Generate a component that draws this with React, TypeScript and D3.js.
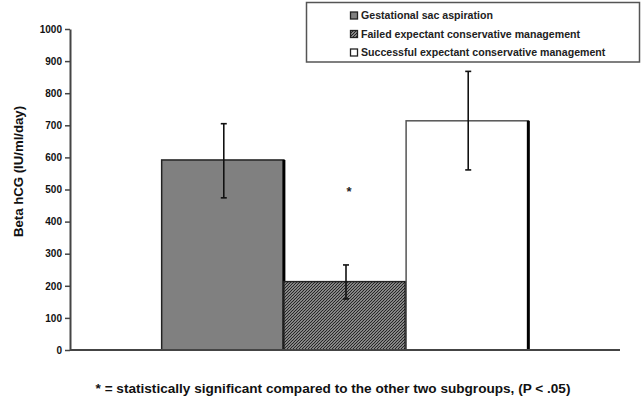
import React, { useEffect, useRef } from 'react';
import * as d3 from 'd3';

const seriesNames = [
    "Gestational sac aspiration",
    "Failed expectant conservative management",
    "Successful expectant conservative management",
];
const means = [592, 213, 714];
const errLow = [474, 159, 561];
const errHigh = [705, 265, 868];
const yTicks = [0, 100, 200, 300, 400, 500, 600, 700, 800, 900, 1000];
const significant = [false, true, false];
const yTitle = "Beta hCG (IU/ml/day)";
const footnote = "* = statistically significant compared to the other two subgroups, (P < .05)";

export default function App() {
    const svgRef = useRef<SVGSVGElement>(null);

    useEffect(() => {
        if (!svgRef.current) return;
        const svg = d3.select(svgRef.current);
        svg.selectAll("*").remove();

        const W = 644, H = 401;
        const margin = { top: 29, right: 24, bottom: 51, left: 70 };
        const font = "'Liberation Sans', Arial, sans-serif";

        // hatch pattern for the failed group
        const defs = svg.append("defs");
        const pat = defs.append("pattern")
            .attr("id", "hatch")
            .attr("patternUnits", "userSpaceOnUse")
            .attr("width", 3)
            .attr("height", 3);
        pat.append("rect").attr("width", 3).attr("height", 3).attr("fill", "#cfcfcf");
        pat.append("path")
            .attr("d", "M-1,1 l2,-2 M0,3 l3,-3 M2,4 l2,-2")
            .attr("stroke", "#262626")
            .attr("stroke-width", 1.25);

        const fills = ["#808080", "url(#hatch)", "#ffffff"];

        const x0 = d3.scaleBand<string>()
            .domain(["all"])
            .range([margin.left, W - margin.right])
            .paddingInner(0)
            .paddingOuter(0.25);

        const x1 = d3.scaleBand<string>()
            .domain(seriesNames)
            .range([0, x0.bandwidth()])
            .padding(0);

        const y = d3.scaleLinear()
            .domain([0, 1000])
            .range([H - margin.bottom, margin.top]);

        const g = svg.append("g");

        // Bars
        seriesNames.forEach((s, i) => {
            const bx = x0("all")! + x1(s)!;
            const bw = x1.bandwidth();
            const top = y(means[i]);
            const bottom = y(0);
            g.append("rect")
                .attr("x", bx)
                .attr("y", top)
                .attr("width", bw)
                .attr("height", bottom - top)
                .attr("fill", fills[i])
                .attr("stroke", i === 2 ? "#555" : "#222")
                .attr("stroke-width", 1.5);
            // dark shadow on right edge
            g.append("line")
                .attr("x1", bx + bw).attr("x2", bx + bw)
                .attr("y1", top).attr("y2", bottom)
                .attr("stroke", "#000")
                .attr("stroke-width", 3);
        });

        // Error bars
        seriesNames.forEach((s, i) => {
            const cx = x0("all")! + x1(s)! + x1.bandwidth() / 2 + 1;
            const cap = 3;
            g.append("line")
                .attr("x1", cx).attr("x2", cx)
                .attr("y1", y(errHigh[i])).attr("y2", y(errLow[i]))
                .attr("stroke", "#111").attr("stroke-width", 1.6);
            [errHigh[i], errLow[i]].forEach(v => {
                g.append("line")
                    .attr("x1", cx - cap).attr("x2", cx + cap)
                    .attr("y1", y(v)).attr("y2", y(v))
                    .attr("stroke", "#111").attr("stroke-width", 1.6);
            });
            if (significant[i]) {
                g.append("text")
                    .attr("x", cx + 3)
                    .attr("y", y(errHigh[i] + 215))
                    .attr("text-anchor", "middle")
                    .attr("font-family", font)
                    .attr("font-weight", "bold")
                    .attr("font-size", 13)
                    .attr("fill", "#222")
                    .text("*");
            }
        });

        // Axes
        const yAxis = g.append("g")
            .attr("transform", `translate(${margin.left},0)`)
            .call(d3.axisLeft(y).tickValues(yTicks).tickFormat(d => String(d)).tickSize(5).tickPadding(3).tickSizeOuter(0));
        yAxis.select(".domain").attr("stroke", "#444").attr("stroke-width", 2);
        yAxis.selectAll(".tick line").attr("stroke", "#444").attr("stroke-width", 1.5);
        yAxis.selectAll(".tick text")
            .attr("font-family", font)
            .attr("font-weight", "bold")
            .attr("font-size", 10)
            .attr("fill", "#111");

        g.append("line")
            .attr("x1", margin.left).attr("x2", W - margin.right)
            .attr("y1", y(0)).attr("y2", y(0))
            .attr("stroke", "#444").attr("stroke-width", 2);

        // Y title
        g.append("text")
            .attr("transform", `translate(23,${(y(0) + y(1000)) / 2 - 18}) rotate(-90)`)
            .attr("text-anchor", "middle")
            .attr("font-family", font)
            .attr("font-weight", "bold")
            .attr("font-size", 13.2)
            .attr("fill", "#111")
            .text(yTitle);

        // Legend
        const lg = svg.append("g");
        lg.append("rect")
            .attr("x", 306.5).attr("y", 2.5)
            .attr("width", 333).attr("height", 59.5)
            .attr("fill", "#fff")
            .attr("stroke", "#555")
            .attr("stroke-width", 1.5);
        seriesNames.forEach((s, i) => {
            const ly = 15.5 + i * 18.5;
            lg.append("rect")
                .attr("x", 350.5).attr("y", ly - 3.5)
                .attr("width", 7).attr("height", 7)
                .attr("fill", fills[i])
                .attr("stroke", "#222")
                .attr("stroke-width", 1.3);
            lg.append("text")
                .attr("x", 361)
                .attr("y", ly)
                .attr("dy", "0.35em")
                .attr("font-family", font)
                .attr("font-weight", "bold")
                .attr("font-size", 10.6)
                .attr("fill", "#222")
                .text(s);
        });

        // Footnote
        svg.append("text")
            .attr("x", 333)
            .attr("y", 388)
            .attr("dy", "0.35em")
            .attr("text-anchor", "middle")
            .attr("font-family", font)
            .attr("font-weight", "bold")
            .attr("font-size", 13.6)
            .attr("fill", "#111")
            .text(footnote);
    }, []);

    return (
        <div style={{ position: 'absolute', left: 0, top: 0, width: 644, height: 401, background: '#fff' }}>
            <svg ref={svgRef} width={644} height={401} style={{ display: 'block' }} />
        </div>
    );
}
